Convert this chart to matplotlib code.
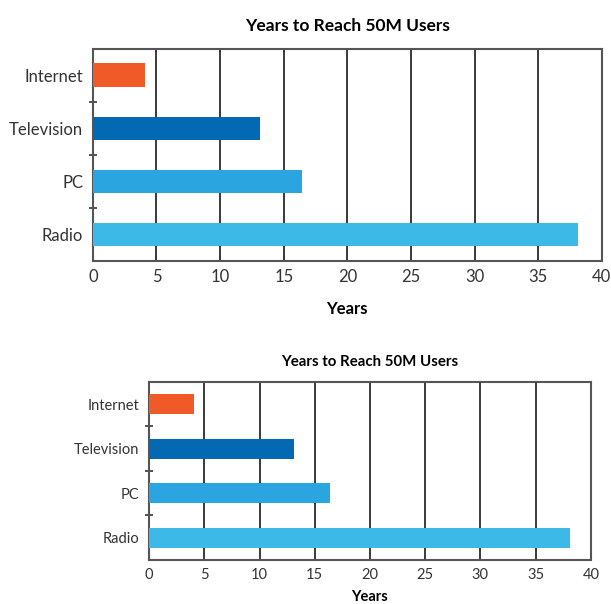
import numpy as np
import matplotlib.pyplot as plt

plt.rcParams['font.family'] = ['Lato', 'DejaVu Sans']

# data
categories = ['Internet', 'Television', 'PC', 'Radio']
years = [4.1, 13.1, 16.4, 38.1]
bar_colors = ['#F05A28', '#0369B3', '#2AA5DF', '#3DB9E7']
x_ticks = [0, 5, 10, 15, 20, 25, 30, 35, 40]
title = 'Years to Reach 50M Users'
xlabel = 'Years'


def draw_chart(ax, fs_tick, fs_title, fs_label, title_pad, label_pad):
    y = np.arange(len(categories))
    ax.barh(y, years, height=0.45, color=bar_colors, zorder=3)
    ax.set_xlim(0, 40)
    ax.set_ylim(len(categories) - 0.5, -0.5)
    ax.set_xticks(x_ticks)
    ax.set_xticklabels([str(t) for t in x_ticks], fontsize=fs_tick, color='#333333')
    ax.set_yticks(y)
    ax.set_yticklabels(categories, fontsize=fs_tick, color='#333333')
    ax.set_yticks(y[:-1] + 0.5, minor=True)
    ax.tick_params(axis='y', which='major', length=0, pad=7)
    ax.tick_params(axis='y', which='minor', length=6, width=1.3,
                   direction='inout', color='#444444')
    ax.tick_params(axis='x', length=0, pad=6)
    ax.grid(axis='x', color='#2a2a2a', linewidth=1.3, zorder=1)
    ax.set_axisbelow(True)
    for s in ax.spines.values():
        s.set_color('#555555')
        s.set_linewidth(1.5)
    ax.set_title(title, fontsize=fs_title, fontweight='bold', pad=title_pad)
    ax.set_xlabel(xlabel, fontsize=fs_label, fontweight='bold', labelpad=label_pad)


fig = plt.figure(figsize=(6.11, 6.04), dpi=100)
ax1 = fig.add_axes([0.152, 0.568, 0.833, 0.351])
ax2 = fig.add_axes([0.244, 0.073, 0.723, 0.295])

draw_chart(ax1, 12, 12.5, 12, 13, 11)
draw_chart(ax2, 10.5, 10.8, 10.5, 11, 5.5)

fig.savefig('out.png', dpi=100)
